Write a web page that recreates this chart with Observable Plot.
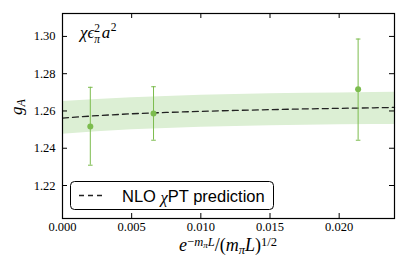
<!DOCTYPE html>
<html><head><meta charset="utf-8">
<script src="https://cdn.jsdelivr.net/npm/d3@7"></script>
<script src="https://cdn.jsdelivr.net/npm/@observablehq/plot@0.6"></script>
<style>body{margin:0;background:#fff} svg{display:block}</style>
</head><body><div id="chart"></div>
<script>
// data points (x, central value, error bar low/high)
const ptX = [0.00201, 0.00658, 0.02137];
const ptY = [1.2516, 1.2586, 1.2716];
const ptLo = [1.2309, 1.2443, 1.2443];
const ptHi = [1.2727, 1.2730, 1.2986];
// NLO chiPT prediction band
const bandX = [0, 0.0025, 0.005, 0.0075, 0.01, 0.0125, 0.015, 0.0175, 0.02, 0.0225, 0.024];
const bandC = [1.2562, 1.2575, 1.2585, 1.2592, 1.2598, 1.2603, 1.2607, 1.2611, 1.2614, 1.2617, 1.2619];
const bandHi = [1.2651, 1.2662, 1.2671, 1.2678, 1.2684, 1.2688, 1.2692, 1.2695, 1.2697, 1.2699, 1.2700];
const bandLo = [1.2475, 1.2488, 1.2499, 1.2506, 1.2512, 1.2517, 1.2521, 1.2524, 1.2526, 1.2527, 1.2528];
// ticks
const xTicks = [0, 0.005, 0.010, 0.015, 0.020];
const yTicks = [1.22, 1.24, 1.26, 1.28, 1.30];
const xDomain = [0, 0.024];
const yDomain = [1.2023, 1.3123];
const legendLabel = ["NLO ", "χ", "PT prediction"];

const pts = ptX.map((x, i) => ({x, y: ptY[i], lo: ptLo[i], hi: ptHi[i]}));
const band = bandX.map((x, i) => ({x, c: bandC[i], lo: bandLo[i], hi: bandHi[i]}));

const W = 415, H = 257, mL = 62, mR = 21, mT = 13, mB = 39;
const plotW = W - mL - mR, plotH = H - mT - mB, tk = 5;
const green = "#7cbc4e";
const cap = {draw(ctx, size) { const r = Math.sqrt(size / Math.PI); ctx.moveTo(-r, 0); ctx.lineTo(r, 0); }};

const chart = Plot.plot({
  width: W, height: H,
  marginLeft: mL, marginRight: mR, marginTop: mT, marginBottom: mB,
  x: {domain: xDomain},
  y: {domain: yDomain},
  style: {fontFamily: "Liberation Serif", fontSize: "12.5px", background: "#fff", color: "#000"},
  marks: [
    Plot.areaY(band, {x: "x", y1: "lo", y2: "hi", fill: "#dcefd4"}),
    Plot.lineY(band, {x: "x", y: "c", stroke: "#222", strokeWidth: 1.3, strokeDasharray: "6,4"}),
    Plot.ruleX(pts, {x: "x", y1: "lo", y2: "hi", stroke: green, strokeWidth: 1}),
    Plot.dot(pts, {x: "x", y: "lo", symbol: cap, r: 2.3, stroke: green, strokeWidth: 1}),
    Plot.dot(pts, {x: "x", y: "hi", symbol: cap, r: 2.3, stroke: green, strokeWidth: 1}),
    Plot.dot(pts, {x: "x", y: "y", r: 3, fill: green}),
    Plot.axisX({anchor: "bottom", ticks: xTicks, tickFormat: d3.format(".3f"), tickSize: 0, tickPadding: 4, label: null}),
    Plot.axisY({anchor: "left", ticks: yTicks, tickFormat: d3.format(".2f"), tickSize: 0, tickPadding: 7, label: null}),
    // inward ticks on all four sides
    Plot.tickX(xTicks, {x: d => d, insetTop: plotH - tk, stroke: "#000"}),
    Plot.tickX(xTicks, {x: d => d, insetBottom: plotH - tk, stroke: "#000"}),
    Plot.tickY(yTicks, {y: d => d, insetRight: plotW - tk, stroke: "#000"}),
    Plot.tickY(yTicks, {y: d => d, insetLeft: plotW - tk, stroke: "#000"}),
    Plot.frame({stroke: "#000", strokeWidth: 1.2})
  ]
});
document.getElementById("chart").appendChild(chart);

const svg = d3.select(chart);
const serif = "Liberation Serif";
// annotation chi eps_pi^2 a^2
const ann = svg.append("g").attr("font-family", serif).attr("font-style", "italic").attr("fill", "#000").attr("text-anchor", "start");
const t1 = ann.append("text").attr("x", 80).attr("y", 38).attr("font-size", 17).text("χϵ");
const w1 = t1.node().getComputedTextLength();
ann.append("text").attr("x", 80 + w1).attr("y", 32).attr("font-size", 11.5).attr("font-style", "normal").text("2");
ann.append("text").attr("x", 80 + w1).attr("y", 42.5).attr("font-size", 11.5).text("π");
const t2 = ann.append("text").attr("x", 80 + w1 + 7.5).attr("y", 38).attr("font-size", 17).text("a");
const w2 = t2.node().getComputedTextLength();
ann.append("text").attr("x", 80 + w1 + 7.5 + w2 + 0.5).attr("y", 31).attr("font-size", 11.5).attr("font-style", "normal").text("2");

// x label
const xl = svg.append("text").attr("x", 228).attr("y", 251).attr("text-anchor", "middle")
  .attr("font-family", serif).attr("fill", "#000").attr("font-size", 18);
xl.append("tspan").attr("font-style", "italic").text("e");
xl.append("tspan").attr("dy", -5.5).attr("font-size", 12.5).text("−");
xl.append("tspan").attr("font-size", 12.5).attr("font-style", "italic").text("m");
xl.append("tspan").attr("dy", 2).attr("font-size", 9).attr("font-style", "italic").text("π");
xl.append("tspan").attr("dy", -2).attr("font-size", 12.5).attr("font-style", "italic").text("L");
xl.append("tspan").attr("dy", 5.5).text("/(");
xl.append("tspan").attr("font-style", "italic").text("m");
xl.append("tspan").attr("dy", 3).attr("font-size", 12.5).attr("font-style", "italic").text("π");
xl.append("tspan").attr("dy", -3).attr("font-style", "italic").text("L");
xl.append("tspan").text(")");
xl.append("tspan").attr("dy", -5.5).attr("font-size", 12.5).text("1/2");

// y label
const yl = svg.append("text").attr("transform", "translate(22,107) rotate(-90)").attr("text-anchor", "middle")
  .attr("font-family", serif).attr("font-style", "italic").attr("fill", "#000").attr("font-size", 17);
yl.append("tspan").text("g");
yl.append("tspan").attr("dy", 3).attr("font-size", 12).text("A");

// legend
const lg = svg.append("g").attr("text-anchor", "start");
lg.append("rect").attr("x", 70.5).attr("y", 181.5).attr("width", 203).attr("height", 28).attr("rx", 4)
  .attr("fill", "#fff").attr("stroke", "#000").attr("stroke-width", 1);
lg.append("line").attr("x1", 79).attr("x2", 105).attr("y1", 195.5).attr("y2", 195.5)
  .attr("stroke", "#222").attr("stroke-width", 1.3).attr("stroke-dasharray", "5,4");
const lt = lg.append("text").attr("x", 122).attr("y", 202).attr("font-family", "Liberation Sans").attr("font-size", 16.5).attr("fill", "#000");
lt.append("tspan").text(legendLabel[0]);
lt.append("tspan").attr("font-family", serif).attr("font-style", "italic").attr("dy", 1).text(legendLabel[1]);
lt.append("tspan").attr("dy", -1).text(legendLabel[2]);
</script></body></html>
